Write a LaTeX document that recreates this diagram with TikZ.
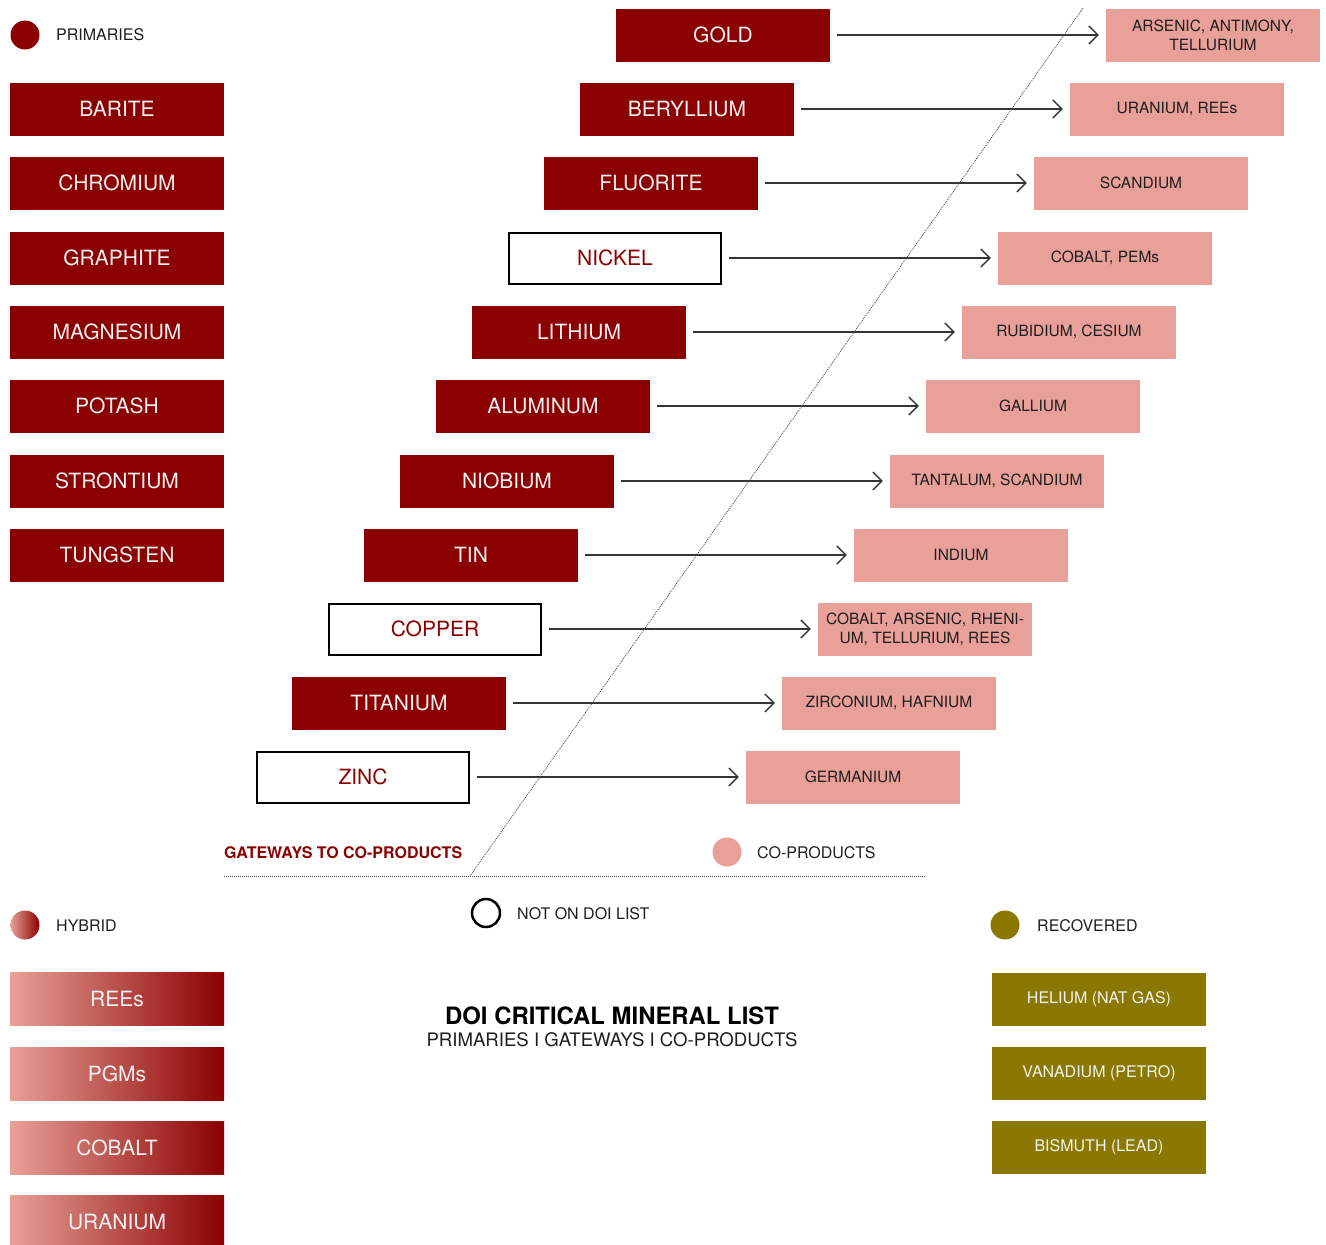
\documentclass[tikz,border=0pt]{standalone}
\usepackage{fontspec}
\setmainfont{TeX Gyre Heros}
\usetikzlibrary{arrows.meta}

\definecolor{primred}{RGB}{139,0,0}
\definecolor{coprod}{RGB}{232,160,152}
\definecolor{recov}{RGB}{139,120,0}
\definecolor{ink}{RGB}{30,30,30}

\begin{document}
\begin{tikzpicture}[x=1pt, y=-1pt,
    box/.style={minimum width=214pt, minimum height=53pt, inner sep=0pt, align=center},
    prim/.style={box, fill=primred, text=white!95!black, font=\fontsize{21}{25}\selectfont},
    notdoi/.style={box, draw=black, line width=2pt, fill=white, text=primred, minimum width=212pt, minimum height=51pt, font=\fontsize{21}{25}\selectfont},
    copr/.style={box, fill=coprod, text=ink, font=\fontsize{15.5}{19}\selectfont},
    hyb/.style={box, left color=coprod, right color=primred, text=white!95!black, font=\fontsize{21}{25}\selectfont},
    rec/.style={box, fill=recov, text=white!95!black, font=\fontsize{16}{20}\selectfont},
    legend/.style={anchor=west, inner sep=0pt, text=ink, font=\fontsize{16}{19}\selectfont},
    arr/.style={-{Straight Barb[length=9pt, width=18pt]}, draw=ink!90, line width=1.3pt, shorten <=7pt, shorten >=7pt},
    sep/.style={draw=black!70, line width=0.8pt, dash pattern=on 1pt off 1pt}]
    \useasboundingbox (0,0) rectangle (1326,1245);

    % primaries
    \fill[primred] (25,35) circle (14.5);
    \node[legend] (lprim) at (56,35) {PRIMARIES};
    \node[prim] (barite) at (117,109) {BARITE};
    \node[prim] (chromium) at (117,183) {CHROMIUM};
    \node[prim] (graphite) at (117,258) {GRAPHITE};
    \node[prim] (magnesium) at (117,332) {MAGNESIUM};
    \node[prim] (potash) at (117,406) {POTASH};
    \node[prim] (strontium) at (117,481) {STRONTIUM};
    \node[prim] (tungsten) at (117,555) {TUNGSTEN};

    % gateways
    \node[prim] (gold) at (723,35) {GOLD};
    \node[prim] (beryllium) at (687,109) {BERYLLIUM};
    \node[prim] (fluorite) at (651,183) {FLUORITE};
    \node[notdoi] (nickel) at (615,258) {NICKEL};
    \node[prim] (lithium) at (579,332) {LITHIUM};
    \node[prim] (aluminum) at (543,406) {ALUMINUM};
    \node[prim] (niobium) at (507,481) {NIOBIUM};
    \node[prim] (tin) at (471,555) {TIN};
    \node[notdoi] (copper) at (435,629) {COPPER};
    \node[prim] (titanium) at (399,703) {TITANIUM};
    \node[notdoi] (zinc) at (363,777) {ZINC};

    % co-products
    \node[copr] (arsenic) at (1213,35) {ARSENIC, ANTIMONY,\\TELLURIUM};
    \node[copr] (uranium) at (1177,109) {URANIUM, REEs};
    \node[copr] (scandium) at (1141,183) {SCANDIUM};
    \node[copr] (cobpem) at (1105,258) {COBALT, PEMs};
    \node[copr] (rubidium) at (1069,332) {RUBIDIUM, CESIUM};
    \node[copr] (gallium) at (1033,406) {GALLIUM};
    \node[copr] (tantalum) at (997,481) {TANTALUM, SCANDIUM};
    \node[copr] (indium) at (961,555) {INDIUM};
    \node[copr] (cobars) at (925,629) {COBALT, ARSENIC, RHENI-\\UM, TELLURIUM, REES};
    \node[copr] (zirconium) at (889,703) {ZIRCONIUM, HAFNIUM};
    \node[copr] (germanium) at (853,777) {GERMANIUM};

    \draw[arr] (gold) -- (arsenic);
    \draw[arr] (beryllium) -- (uranium);
    \draw[arr] (fluorite) -- (scandium);
    \draw[arr] (nickel) -- (cobpem);
    \draw[arr] (lithium) -- (rubidium);
    \draw[arr] (aluminum) -- (gallium);
    \draw[arr] (niobium) -- (tantalum);
    \draw[arr] (tin) -- (indium);
    \draw[arr] (copper) -- (cobars);
    \draw[arr] (titanium) -- (zirconium);
    \draw[arr] (zinc) -- (germanium);

    % dividers
    \coordinate (dtop) at (1083,8);
    \coordinate (dbot) at (470,876);
    \draw[sep] (dtop) -- (dbot);
    \draw[sep] (224,876) -- (926,876);

    \node[anchor=west, inner sep=0pt, text=primred, font=\bfseries\fontsize{16}{19}\selectfont] (lgate) at (224,853) {GATEWAYS TO CO-PRODUCTS};
    \fill[coprod] (727,852) circle (14.5);
    \node[legend] (lcopr) at (757,853) {CO-PRODUCTS};
    \draw[black, line width=2.5pt] (486,913) circle (14);
    \node[legend] (lnot) at (517,914) {NOT ON DOI LIST};

    % hybrid
    \shade[left color=coprod, right color=primred] (25,925) circle (14.5);
    \node[legend] (lhyb) at (56,926) {HYBRID};
    \node[hyb] (rees) at (117,999) {REEs};
    \node[hyb] (pgms) at (117,1074) {PGMs};
    \node[hyb] (cobalt) at (117,1148) {COBALT};
    \node[hyb] (urhyb) at (117,1222) {URANIUM};

    % recovered
    \fill[recov] (1005,925) circle (14.5);
    \node[legend] (lrec) at (1037,926) {RECOVERED};
    \node[rec] (helium) at (1099,999) {HELIUM (NAT GAS)};
    \node[rec] (vanadium) at (1099,1073) {VANADIUM (PETRO)};
    \node[rec] (bismuth) at (1099,1147) {BISMUTH (LEAD)};

    % title
    \node[inner sep=0pt, text=black, font=\bfseries\fontsize{23.9}{28}\selectfont] (title) at (612,1016) {DOI CRITICAL MINERAL LIST};
    \node[inner sep=0pt, text=ink, font=\fontsize{18.6}{22}\selectfont] (subtitle) at (612,1040) {PRIMARIES I GATEWAYS I CO-PRODUCTS};
\end{tikzpicture}
\end{document}
